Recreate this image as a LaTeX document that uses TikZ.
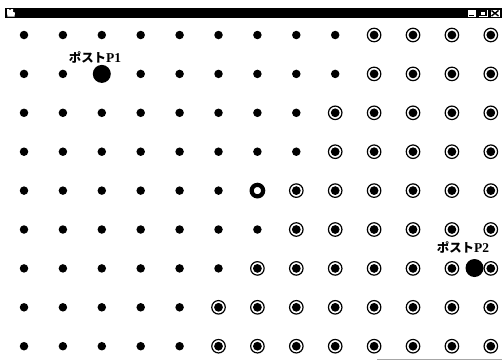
\documentclass[tikz,border=0pt]{standalone}
\usepackage{fontspec}
\setmainfont{Liberation Serif}
\newfontfamily\jpfont{Noto Sans CJK JP}[Scale=0.92]
\begin{document}
\begin{tikzpicture}[x=1pt,y=-1pt,
  plaindot/.style={circle,fill=black,inner sep=0pt,minimum size=8.5pt},
  ringdot/.style={circle,draw=black,line width=1.2pt,fill=white,inner sep=0pt,minimum size=13.5pt},
  ringcore/.style={fill=black},
  whiteo/.style={circle,draw=black,line width=4.2pt,fill=white,inner sep=0pt,minimum size=11.5pt},
  postdot/.style={circle,fill=black,inner sep=0pt,minimum size=18pt},
  postlabel/.style={font=\fontsize{13.5}{15}\selectfont\bfseries,inner sep=0pt},
  titlebar/.style={fill=black},
  winbtn/.style={fill=white,draw=black,line width=0.5pt}]
\useasboundingbox (0,0) rectangle (502,360);
\fill[white] (0,0) rectangle (502,360);
% title bar
\fill[titlebar] (5,7.5) rectangle (502,18);
\fill[white] (7,9) -- (9,9) -- (10,10.5) -- (11,9) -- (13,9) -- (13,12) -- (15,12.5) -- (14.5,16.5) -- (7.5,16.5) -- (7,12.5) -- cycle;
\filldraw[winbtn] (467,9) rectangle (476,17.5);
\draw[line width=1.2pt] (469,15.5) -- (474,15.5);
\filldraw[winbtn] (478,9) rectangle (488,17.5);
\draw[line width=1.1pt] (480,11) rectangle (486,15.5);
\filldraw[winbtn] (490,9) rectangle (500,17.5);
\draw[line width=1.4pt] (491.5,10.5) -- (498.5,16) (491.5,16) -- (498.5,10.5);
% grid of dots
\foreach \r/\f in {0/9,1/9,2/8,3/8,4/7,5/7,6/6,7/5,8/5} {
  \foreach \c in {0,...,12} {
    \pgfmathsetmacro\px{24+38.9*\c}
    \pgfmathsetmacro\py{35+38.9*\r}
    \pgfmathtruncatemacro\kind{(\r==4 && \c==6) ? 3 : ((\r==1 && \c==2) ? 4 : ((\c>=\f) ? 2 : 1))}
    \ifcase\kind
    \or \node[plaindot] (d-\r-\c) at (\px,\py) {};
    \or \node[ringdot] (d-\r-\c) at (\px,\py) {};
        \fill[ringcore] (d-\r-\c) circle (4.4);
    \or \node[whiteo] (d-\r-\c) at (\px,\py) {};
    \or \node[postdot] (d-\r-\c) at (\px,\py) {};
    \fi
  }
}
% posts
\node[postdot] (p2) at (474.5,268) {};
\node[postlabel] (p1label) at (95,57) {{\jpfont ポスト}P1};
\node[postlabel] (p2label) at (463,247) {{\jpfont ポスト}P2};
% bottom window edge
\draw[black!35,line width=1pt] (377,359) -- (502,359);
\end{tikzpicture}
\end{document}
